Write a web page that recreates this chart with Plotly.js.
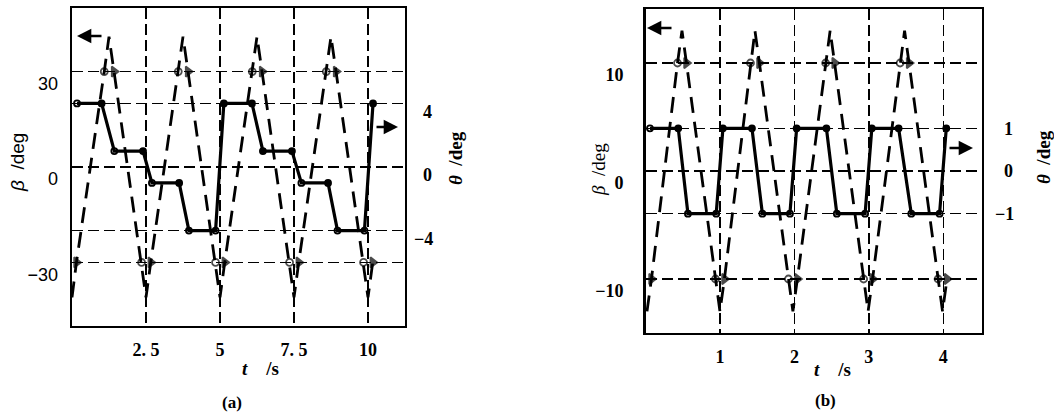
<!DOCTYPE html>
<html>
<head>
<meta charset="utf-8">
<script src="https://cdn.plot.ly/plotly-3.0.1.min.js"></script>
<style>html,body{margin:0;padding:0;background:#fff;}#chart{width:1054px;height:417px;}</style>
</head>
<body>
<div id="chart"></div>
<script>
// ---------- Panel (a) data ----------
const tBetaA = [0.00, 0.15, 1.09, 1.25, 1.42, 2.35, 2.50, 2.66, 3.59, 3.75, 3.92, 4.85, 5.00, 5.16, 6.09, 6.25, 6.42, 7.35, 7.50, 7.66, 8.59, 8.75, 8.92, 9.85, 10.00, 10.16];
const betaA  = [-41, -30, 30, 41, 30, -30, -41, -30, 30, 41, 30, -30, -41, -30, 30, 41, 30, -30, -41, -30, 30, 41, 30, -30, -41, -30];
const tThetaA = [0.17, 1.00, 1.43, 2.40, 2.70, 3.62, 3.95, 4.85, 5.13, 6.08, 6.45, 7.43, 7.75, 8.65, 8.97, 9.88, 10.17];
const thetaA  = [4, 4, 1, 1, -1, -1, -4, -4, 4, 4, 1, 1, -1, -1, -4, -4, 4];
const xTicksA = [2.5, 5, 7.5, 10];
const xTickTextA = ['2. 5', '5', '7. 5', '10'];
const betaTicksA = [-30, 0, 30];
const betaTickTextA = ['\u221230', '0', '30'];
const thetaTicksA = [-4, 0, 4];
const thetaTickTextA = ['\u22124', '\u20070', '\u20074'];

// ---------- Panel (b) data ----------
const tBetaB = [0.02, 0.08, 0.43, 0.49, 0.55, 0.94, 1.00, 1.06, 1.41, 1.47, 1.53, 1.92, 1.98, 2.04, 2.42, 2.48, 2.54, 2.93, 2.99, 3.05, 3.42, 3.48, 3.54, 3.93, 3.99, 4.05];
const betaB  = [-13, -10, 10, 13, 10, -10, -13, -10, 10, 13, 10, -10, -13, -10, 10, 13, 10, -10, -13, -10, 10, 13, 10, -10, -13, -10];
const tThetaB = [0.06, 0.44, 0.57, 0.95, 1.04, 1.43, 1.57, 1.94, 2.03, 2.43, 2.57, 2.95, 3.04, 3.40, 3.57, 3.95, 4.04];
const thetaB  = [1, 1, -1, -1, 1, 1, -1, -1, 1, 1, -1, -1, 1, 1, -1, -1, 1];
const xTicksB = [1, 2, 3, 4];
const xTickTextB = ['1', '2', '3', '4'];
const betaTicksB = [-10, 0, 10];
const betaTickTextB = ['\u221210', '0', '10'];
const thetaTicksB = [-1, 0, 1];
const thetaTickTextB = ['\u22121', '\u20070', '\u20071'];

// ---------- marker styling (per point kind) ----------
const betaKind = ['n','tri','o','n','tri','o'];
function betaSymbols(n){ const s=[]; for(let i=0;i<n;i++){ const k=betaKind[i%6]; s.push(k==='o'?'circle-open':(k==='tri'?'triangle-right':'circle')); } return s; }
function betaSizes(n){ const s=[]; for(let i=0;i<n;i++){ const k=betaKind[i%6]; s.push(k==='n'?0:(k==='tri'?9:7)); } return s; }
const thetaSymA = ['circle-open','circle','circle-open','circle','circle-open','circle','circle-open','circle-open','circle','circle','circle','circle','circle-open','circle','circle-open','circle-open','circle'];
const thetaSymB = ['circle-open','circle','circle-open','circle-open','circle','circle','circle-open','circle-open','circle','circle','circle-open','circle-open','circle','circle','circle-open','circle-open','circle'];

const serif = 'Liberation Serif, Times New Roman, serif';
const sans = 'Liberation Sans, Arial, sans-serif';
const gridDash = '11px,5px';

function betaTrace(t, b, xa, ya){
  return {x:t, y:b, xaxis:xa, yaxis:ya, type:'scatter', mode:'lines+markers',
    line:{color:'#000', width:2.8, dash:'16px,9px'},
    marker:{symbol:betaSymbols(t.length), size:betaSizes(t.length), color:'#000', line:{color:'#000', width:1.8}},
    hoverinfo:'skip', showlegend:false};
}
function thetaTrace(t, th, sym, xa, ya){
  return {x:t, y:th, xaxis:xa, yaxis:ya, type:'scatter', mode:'lines+markers',
    line:{color:'#000', width:3.2},
    marker:{symbol:sym, size:6, color:'#000', line:{color:'#000', width:1.8}},
    hoverinfo:'skip', showlegend:false};
}

const data = [
  betaTrace(tBetaA, betaA, 'x', 'y'),
  thetaTrace(tThetaA, thetaA, thetaSymA, 'x', 'y2'),
  betaTrace(tBetaB, betaB, 'x2', 'y3'),
  thetaTrace(tThetaB, thetaB, thetaSymB, 'x2', 'y4')
];

function xAxis(domain, range, tv, tt, anchor){
  return {domain:domain, range:range, anchor:anchor, tickvals:tv, ticktext:tt, ticks:'',
    showgrid:true, gridcolor:'#000', gridwidth:1.5, griddash:gridDash, zeroline:false,
    showline:true, mirror:true, linecolor:'#000', linewidth:2.4,
    tickfont:{family:serif, size:18, color:'#000', weight:'bold'}, ticklabelstandoff:6, fixedrange:true};
}
function yLeft(domain, range, tv, tt, anchor, fam, standoff, wt){
  return {domain:domain, range:range, anchor:anchor, tickvals:tv, ticktext:tt, ticks:'',
    showgrid:true, gridcolor:'#000', gridwidth:1.5, griddash:gridDash, zeroline:false,
    showline:true, mirror:true, linecolor:'#000', linewidth:2.4,
    tickfont:{family:fam, size:18, color:'#000', weight:wt}, ticklabelshift:12, ticklabelstandoff:standoff, fixedrange:true};
}
function yRight(range, tv, tt, anchor, overlay, shift, standoff){
  return {range:range, anchor:anchor, overlaying:overlay, side:'right', tickvals:tv, ticktext:tt, ticks:'',
    showgrid:true, gridcolor:'#000', gridwidth:1.5, griddash:gridDash, zeroline:false, showline:false,
    tickfont:{family:serif, size:18, color:'#000', weight:'bold'}, ticklabelshift:shift, ticklabelstandoff:standoff, fixedrange:true};
}

const W = 1054, H = 417;
const px = v => v / W, py = v => 1 - v / H;

function arrow(hx, hy, ax){
  return {x:px(hx), y:py(hy), xref:'paper', yref:'paper', text:'', showarrow:true,
    ax:ax, ay:0, arrowhead:2, arrowsize:1.1, arrowwidth:2.6, arrowcolor:'#000'};
}
function label(x, y, text, fam, size, angle){
  return {x:px(x), y:py(y), xref:'paper', yref:'paper', text:text, showarrow:false,
    xanchor:'center', yanchor:'middle', textangle:angle||0, font:{family:fam, size:size, color:'#000'}};
}
const sp = '\u00a0';

const layout = {
  width:W, height:H, margin:{l:0, r:0, t:0, b:0},
  paper_bgcolor:'#fff', plot_bgcolor:'#fff', showlegend:false,
  xaxis: xAxis([px(72), px(405)], [0, 11.25], xTicksA, xTickTextA, 'y'),
  yaxis: yLeft([1-326/H, 1-8/H], [-50, 50], betaTicksA, betaTickTextA, 'x', sans, 8, 'normal'),
  yaxis2: yRight([-10, 10], thetaTicksA, thetaTickTextA, 'x', 'y', 8, 8),
  xaxis2: xAxis([px(645.5), px(982)], [0, 4.52], xTicksB, xTickTextB, 'y3'),
  yaxis3: yLeft([1-333/H, 1-9/H], [-15, 15], betaTicksB, betaTickTextB, 'x2', serif, 16, 'bold'),
  yaxis4: yRight([-3.8, 3.8], thetaTicksB, thetaTickTextB, 'x2', 'y3', 0, 12),
  annotations: [
    label(260, 368, '<b><i>t</i>'+sp+sp+sp+sp+'/s</b>', serif, 19),
    label(832, 369, '<b><i>t</i>'+sp+sp+sp+sp+'/s</b>', serif, 19),
    label(232, 402, '<b>(a)</b>', serif, 17),
    label(825, 400, '<b>(b)</b>', serif, 17),
    label(17, 163, '<i>β</i>'+sp+sp+'/deg', sans, 19, -90),
    label(455, 158, '<b><i>θ</i>'+sp+sp+'/deg</b>', serif, 19, -90),
    label(598, 170, '<i>β</i>'+sp+sp+'/deg', serif, 19, -90),
    label(1043, 157, '<b><i>θ</i>'+sp+sp+'/deg</b>', serif, 19, -90),
    arrow(77, 36, 26),
    arrow(398, 127, -23),
    arrow(647, 28, 26),
    arrow(973, 148, -25)
  ]
};

Plotly.newPlot('chart', data, layout, {staticPlot:true, displayModeBar:false});
</script>
</body>
</html>
